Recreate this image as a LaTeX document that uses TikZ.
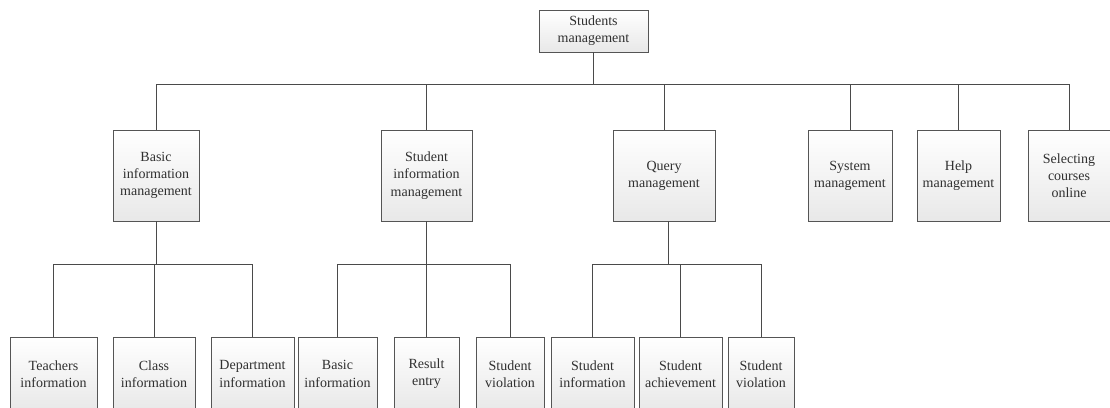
\documentclass[tikz,border=0pt]{standalone}
\usepackage{fontspec}
\setmainfont{Liberation Serif}
\usetikzlibrary{shadows}
\definecolor{boxline}{HTML}{555555}
\definecolor{conn}{HTML}{4A4A4A}
\definecolor{txt}{HTML}{303030}
\tikzset{
  box/.style={draw=boxline, line width=0.65pt, top color=white, bottom color=black!9,
    align=center, inner sep=1pt, text=txt,
    font=\fontsize{10.5}{12.9}\selectfont,
    drop shadow={shadow xshift=1pt, shadow yshift=-1pt, fill=black!20, opacity=0.4}},
  conline/.style={draw=conn, line width=0.7pt}
}
\begin{document}
\begin{tikzpicture}[x=0.75pt, y=-0.75pt]
\useasboundingbox (0,0) rectangle (1110,407);
\clip (0,0) rectangle (1110,407);
% top
\node[box, minimum width=109*0.75pt, minimum height=42*0.75pt] (top) at (593.5,31) {Students\\management};
% level 2
\tikzset{l2/.style={box, minimum height=91*0.75pt, minimum width=#1*0.75pt}}
\node[l2=86]  (basic)  at (156,175.5)  {Basic\\information\\management};
\node[l2=91]  (stu)    at (426.5,175.5) {Student\\information\\management};
\node[l2=102] (query)  at (664,175.5)  {Query\\management};
\node[l2=84]  (sys)    at (850,175.5)  {System\\management};
\node[l2=83]  (help)   at (958.5,175.5) {Help\\management};
\node[l2=82]  (sel)    at (1069,175.5) {Selecting\\courses\\online};
% level 3
\tikzset{l3/.style={box, minimum height=74*0.75pt, minimum width=#1*0.75pt}}
\node[l3=87] (teach) at (53.5,374)  {Teachers\\information};
\node[l3=82] (class) at (154,374)   {Class\\information};
\node[l3=83] (dept)  at (252.5,374) {Department\\information};
\node[l3=79] (binfo) at (337.5,374) {Basic\\information};
\node[l3=65] (res)   at (426.5,374) {Result\\entry};
\node[l3=68] (viol1) at (510,374)   {Student\\violation};
\node[l3=83] (sinfo) at (592.5,374) {Student\\information};
\node[l3=83] (ach)   at (680.5,374) {Student\\achievement};
\node[l3=66] (viol2) at (761,374)   {Student\\violation};
% bars
\coordinate (b0) at (0,84);
\coordinate (b1) at (0,264);
\draw[conline] (top.south) -- (top.south |- b0);
\draw[conline] (basic.north |- b0) -- (sel.north |- b0);
\foreach \n in {basic,stu,query,sys,help,sel}
  \draw[conline] (\n.north) -- (\n.north |- b0);
% basic subtree
\draw[conline] (basic.south) -- (basic.south |- b1);
\draw[conline] (teach.north |- b1) -- (dept.north |- b1);
\foreach \n in {teach,class,dept}
  \draw[conline] (\n.north) -- (\n.north |- b1);
% student info subtree
\draw[conline] (stu.south) -- (stu.south |- b1);
\draw[conline] (binfo.north |- b1) -- (viol1.north |- b1);
\foreach \n in {binfo,res,viol1}
  \draw[conline] (\n.north) -- (\n.north |- b1);
% query subtree
\draw[conline] ([xshift=3pt]query.south) -- ([xshift=3pt]query.south |- b1);
\draw[conline] (sinfo.north |- b1) -- (viol2.north |- b1);
\foreach \n in {sinfo,ach,viol2}
  \draw[conline] (\n.north) -- (\n.north |- b1);
\end{tikzpicture}
\end{document}
